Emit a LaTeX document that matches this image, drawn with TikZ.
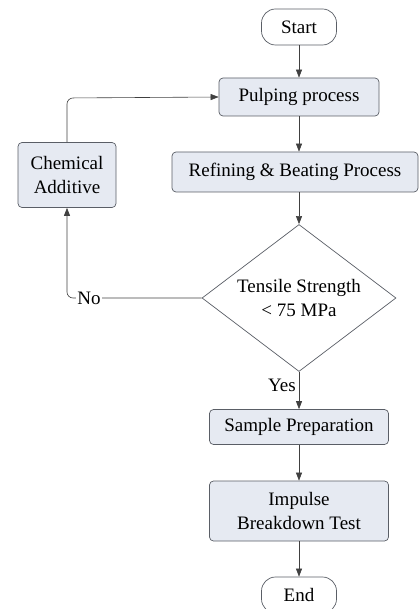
\documentclass[tikz,border=0pt]{standalone}
\usepackage{fontspec}
\setmainfont{Liberation Serif}
\usetikzlibrary{shapes.geometric,arrows.meta}
\definecolor{boxfill}{HTML}{E6EAF2}
\definecolor{boxdraw}{HTML}{5A5E66}
\tikzset{
  basefont/.style={font=\fontsize{19}{24.5}\selectfont},
  proc/.style={draw=boxdraw, fill=boxfill, rounded corners=4pt, line width=0.7pt, align=center, basefont, inner sep=0pt},
  term/.style={draw=boxdraw, fill=white, rounded corners=14pt, line width=0.7pt, minimum width=75pt, minimum height=36pt, basefont, inner sep=0pt},
  dec/.style={draw=boxdraw, fill=white, diamond, line width=0.7pt, minimum width=194pt, minimum height=147pt, align=center, basefont, inner sep=0pt, aspect=1.32},
  conn/.style={draw=black!75, line width=0.6pt, -{Triangle[length=8pt,width=6pt]}},
  lab/.style={basefont, inner sep=1pt}
}
\begin{document}
\begin{tikzpicture}[x=1pt,y=-1pt]
\useasboundingbox (0,0) rectangle (418,609);
\node[term] (start) at (299,27) {Start};
\node[proc, minimum width=160pt, minimum height=38pt] (pulp) at (299,97) {Pulping process};
\node[proc, minimum width=246pt, minimum height=40pt] (refine) at (295,172) {Refining \& Beating Process};
\node[proc, minimum width=98pt, minimum height=65pt] (chem) at (67,175) {Chemical\\Additive};
\node[dec] (tens) at (299,298) {Tensile Strength\\< 75 MPa};
\node[proc, minimum width=179pt, minimum height=35pt] (sample) at (299,427) {Sample Preparation};
\node[proc, minimum width=179pt, minimum height=60pt] (impulse) at (299,511) {Impulse\\Breakdown Test};
\node[term] (end) at (299,595) {End};
\coordinate (nocorner) at (67,298);
\coordinate (topcorner) at (67,98);
\draw[conn] (start) -- (pulp);
\draw[conn] (pulp.south -| 299,0) -- (refine.north -| 299,0);
\draw[conn] (refine.south -| 299,0) -- (tens.north);
\draw[conn, rounded corners=6pt] (tens.west) -- (nocorner) -- (chem.south);
\node[lab, fill=white] (no) at (89,298) {No};
\draw[conn, rounded corners=6pt] (chem.north) -- (topcorner) -- (pulp.west);
\draw[conn] (tens.south) -- node[lab, pos=0.35, left=2pt] (yes) {Yes} (sample.north);
\draw[conn] (sample) -- (impulse);
\draw[conn] (impulse) -- (end);
\end{tikzpicture}
\end{document}
